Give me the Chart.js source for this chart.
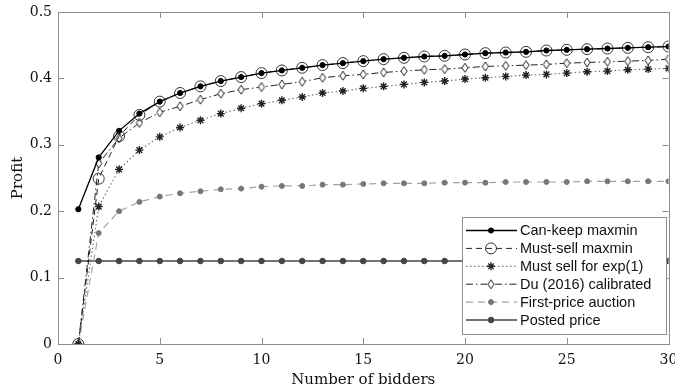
<!DOCTYPE html>
<html>
<head>
<meta charset="utf-8">
<script src="https://cdn.jsdelivr.net/npm/chart.js@4/dist/chart.umd.min.js"></script>
<style>
  html, body { margin: 0; padding: 0; background: #fff; }
  canvas { display: block; }
</style>
</head>
<body>
<canvas id="profitChart" width="675" height="392"></canvas>
<script>
// number of bidders on the x axis
var bidders = [1, 2, 3, 4, 5, 6, 7, 8, 9, 10, 11, 12, 13, 14, 15, 16, 17, 18, 19, 20, 21, 22, 23, 24, 25, 26, 27, 28, 29, 30];

// profit, one array per curve
var canKeepMaxmin = [0.203, 0.281, 0.321, 0.347, 0.365, 0.378, 0.388, 0.396, 0.402, 0.408, 0.412, 0.416, 0.420, 0.423, 0.426, 0.429, 0.431, 0.433, 0.434, 0.436, 0.438, 0.439, 0.440, 0.442, 0.443, 0.444, 0.445, 0.446, 0.447, 0.448];
var mustSellMaxmin = [0, 0.249, 0.313, 0.345, 0.365, 0.378, 0.388, 0.396, 0.402, 0.408, 0.412, 0.416, 0.420, 0.423, 0.426, 0.429, 0.431, 0.433, 0.434, 0.436, 0.438, 0.439, 0.440, 0.442, 0.443, 0.444, 0.445, 0.446, 0.447, 0.448];
var mustSellExp = [0, 0.207, 0.263, 0.292, 0.312, 0.326, 0.337, 0.347, 0.355, 0.362, 0.367, 0.372, 0.378, 0.381, 0.385, 0.388, 0.391, 0.394, 0.396, 0.399, 0.401, 0.403, 0.405, 0.406, 0.408, 0.410, 0.411, 0.413, 0.414, 0.415];
var duCalibrated = [0, 0.272, 0.310, 0.333, 0.349, 0.358, 0.368, 0.377, 0.383, 0.387, 0.391, 0.395, 0.401, 0.404, 0.406, 0.409, 0.411, 0.413, 0.414, 0.416, 0.418, 0.419, 0.420, 0.421, 0.423, 0.424, 0.425, 0.426, 0.427, 0.429];
var firstPrice = [0, 0.167, 0.200, 0.214, 0.222, 0.227, 0.230, 0.233, 0.234, 0.237, 0.238, 0.238, 0.240, 0.240, 0.241, 0.242, 0.242, 0.242, 0.243, 0.243, 0.243, 0.244, 0.244, 0.244, 0.244, 0.245, 0.245, 0.245, 0.245, 0.245];
var postedPrice = [0.125, 0.125, 0.125, 0.125, 0.125, 0.125, 0.125, 0.125, 0.125, 0.125, 0.125, 0.125, 0.125, 0.125, 0.125, 0.125, 0.125, 0.125, 0.125, 0.125, 0.125, 0.125, 0.125, 0.125, 0.125, 0.125, 0.125, 0.125, 0.125, 0.125];

var seriesNames = ['Can-keep maxmin', 'Must-sell maxmin', 'Must sell for exp(1)', 'Du (2016) calibrated', 'First-price auction', 'Posted price'];

// axis ticks
var xTicks = [0, 5, 10, 15, 20, 25, 30];
var yTicks = [0, 0.1, 0.2, 0.3, 0.4, 0.5];

//pair bidders with values for the linear x axis
function toPoints(values) {
  return bidders.map(function (n, i) { return { x: n, y: values[i] }; });
}

//tall open diamond used by the Du curve
function makeDiamond(w, h) {
  var c = document.createElement('canvas');
  c.width = w + 2;
  c.height = h + 2;
  var g = c.getContext('2d');
  g.beginPath();
  g.moveTo(c.width / 2, 1);
  g.lineTo(c.width - 1, c.height / 2);
  g.lineTo(c.width / 2, c.height - 1);
  g.lineTo(1, c.height / 2);
  g.closePath();
  g.fillStyle = '#fff';
  g.fill();
  g.strokeStyle = '#222';
  g.lineWidth = 1;
  g.stroke();
  return c;
}
var diamond = makeDiamond(6, 9);

var datasets = [
  { label: seriesNames[0], data: toPoints(canKeepMaxmin), borderColor: '#000', borderWidth: 1.3,
    pointStyle: 'circle', pointRadius: 2.6, pointBackgroundColor: '#000', pointBorderColor: '#000', pointBorderWidth: 1 },
  { label: seriesNames[1], data: toPoints(mustSellMaxmin), borderColor: '#222', borderWidth: 1, borderDash: [6, 4],
    pointStyle: 'circle', pointRadius: 5.5, pointBackgroundColor: 'rgba(0,0,0,0)', pointBorderColor: '#333', pointBorderWidth: 1 },
  { label: seriesNames[2], data: toPoints(mustSellExp), borderColor: '#777', borderWidth: 1.2, borderDash: [1.5, 2.5],
    pointStyle: 'star', pointRadius: 4, pointBackgroundColor: '#222', pointBorderColor: '#222', pointBorderWidth: 1.4 },
  { label: seriesNames[3], data: toPoints(duCalibrated), borderColor: '#222', borderWidth: 1, borderDash: [7, 3, 1.5, 3],
    pointStyle: diamond, pointRadius: 5 },
  { label: seriesNames[4], data: toPoints(firstPrice), borderColor: '#a5a5a5', borderWidth: 1.2, borderDash: [7, 5],
    pointStyle: 'circle', pointRadius: 2.5, pointBackgroundColor: '#777', pointBorderColor: '#777', pointBorderWidth: 1 },
  { label: seriesNames[5], data: toPoints(postedPrice), borderColor: '#444', borderWidth: 1.3,
    pointStyle: 'circle', pointRadius: 2.8, pointBackgroundColor: '#444', pointBorderColor: '#444', pointBorderWidth: 1 }
];

//marker for the legend rows
function drawMarker(ctx, ds, x, y) {
  ctx.save();
  ctx.setLineDash([]);
  if (ds.pointStyle === diamond) {
    ctx.drawImage(diamond, x - diamond.width / 2, y - diamond.height / 2);
  } else if (ds.pointStyle === 'star') {
    var r = ds.pointRadius;
    ctx.strokeStyle = ds.pointBorderColor;
    ctx.lineWidth = ds.pointBorderWidth;
    ctx.beginPath();
    for (var a = 0; a < 4; a++) {
      var ang = a * Math.PI / 4;
      ctx.moveTo(x - r * Math.cos(ang), y - r * Math.sin(ang));
      ctx.lineTo(x + r * Math.cos(ang), y + r * Math.sin(ang));
    }
    ctx.stroke();
  } else {
    ctx.beginPath();
    ctx.arc(x, y, ds.pointRadius, 0, Math.PI * 2);
    ctx.fillStyle = ds.pointBackgroundColor;
    ctx.fill();
    ctx.strokeStyle = ds.pointBorderColor;
    ctx.lineWidth = ds.pointBorderWidth;
    ctx.stroke();
  }
  ctx.restore();
}

//box frame with inward ticks, like the matlab figure
var framePlugin = {
  id: 'frame',
  beforeDatasetsDraw: function (chart) {
    var ctx = chart.ctx, a = chart.chartArea;
    var xs = chart.scales.x, ys = chart.scales.y;
    ctx.save();
    ctx.strokeStyle = '#8c8c8c';
    ctx.lineWidth = 1;
    ctx.strokeRect(Math.round(a.left) + 0.5, Math.round(a.top) + 0.5, Math.round(a.right - a.left), Math.round(a.bottom - a.top));
    ctx.beginPath();
    xTicks.slice(1, -1).forEach(function (v) {
      var px = Math.round(xs.getPixelForValue(v)) + 0.5;
      ctx.moveTo(px, a.bottom); ctx.lineTo(px, a.bottom - 6);
      ctx.moveTo(px, a.top); ctx.lineTo(px, a.top + 6);
    });
    yTicks.slice(1, -1).forEach(function (v) {
      var py = Math.round(ys.getPixelForValue(v)) + 0.5;
      ctx.moveTo(a.left, py); ctx.lineTo(a.left + 6, py);
      ctx.moveTo(a.right, py); ctx.lineTo(a.right - 6, py);
    });
    ctx.stroke();
    ctx.restore();
  },
  afterDraw: function (chart) {
    //legend box at lower right, inside the plot
    var ctx = chart.ctx;
    var bx = 462, by = 217, bw = 204, bh = 117, row = 17.9;
    ctx.save();
    ctx.fillStyle = '#fff';
    ctx.fillRect(bx, by, bw, bh);
    ctx.strokeStyle = '#8c8c8c';
    ctx.lineWidth = 1;
    ctx.strokeRect(bx + 0.5, by + 0.5, bw, bh);
    ctx.font = '14.5px "Liberation Sans", Arial, sans-serif';
    ctx.textBaseline = 'middle';
    chart.data.datasets.forEach(function (ds, i) {
      var y = by + 13.5 + i * row;
      ctx.save();
      ctx.strokeStyle = ds.borderColor;
      ctx.lineWidth = ds.borderWidth;
      ctx.setLineDash(ds.borderDash || []);
      ctx.beginPath();
      ctx.moveTo(bx + 4, y);
      ctx.lineTo(bx + 55, y);
      ctx.stroke();
      ctx.restore();
      drawMarker(ctx, ds, bx + 29, y);
      ctx.fillStyle = '#111';
      ctx.fillText(ds.label, bx + 58, y + 0.5);
    });
    ctx.restore();
  }
};

var serif = '"DejaVu Serif", "Liberation Serif", serif';

var config = {
  type: 'line',
  data: { datasets: datasets },
  options: {
    responsive: false,
    animation: false,
    devicePixelRatio: 1,
    layout: { padding: { top: 12, right: 6, left: 0, bottom: 0 } },
    plugins: {
      legend: { display: false },
      tooltip: { enabled: false }
    },
    scales: {
      x: {
        type: 'linear',
        min: 0,
        max: 30,
        afterFit: function (s) { s.height = 48; s.paddingLeft = 0; s.paddingRight = 0; },
        afterBuildTicks: function (s) { s.ticks = xTicks.map(function (v) { return { value: v }; }); },
        grid: { display: false, drawTicks: false },
        border: { display: false },
        ticks: { padding: 8, color: '#111', font: { family: serif, size: 14 } },
        title: { display: true, text: 'Number of bidders', color: '#111', padding: { top: 0, bottom: 3 },
          font: { family: serif, size: 15 } }
      },
      y: {
        min: 0,
        max: 0.5,
        afterFit: function (s) { s.width = 58; s.paddingTop = 0; s.paddingBottom = 0; },
        afterBuildTicks: function (s) { s.ticks = yTicks.map(function (v) { return { value: v }; }); },
        grid: { display: false, drawTicks: false },
        border: { display: false },
        ticks: { padding: 6, color: '#111', font: { family: serif, size: 14 },
          callback: function (v) { return v === 0 ? '0' : v.toFixed(1); } },
        title: { display: true, text: 'Profit', color: '#111', padding: { top: 9, bottom: 0 },
          font: { family: serif, size: 15 } }
      }
    }
  },
  plugins: [framePlugin]
};

var profitChart = new Chart(document.getElementById('profitChart'), config);
</script>
</body>
</html>
